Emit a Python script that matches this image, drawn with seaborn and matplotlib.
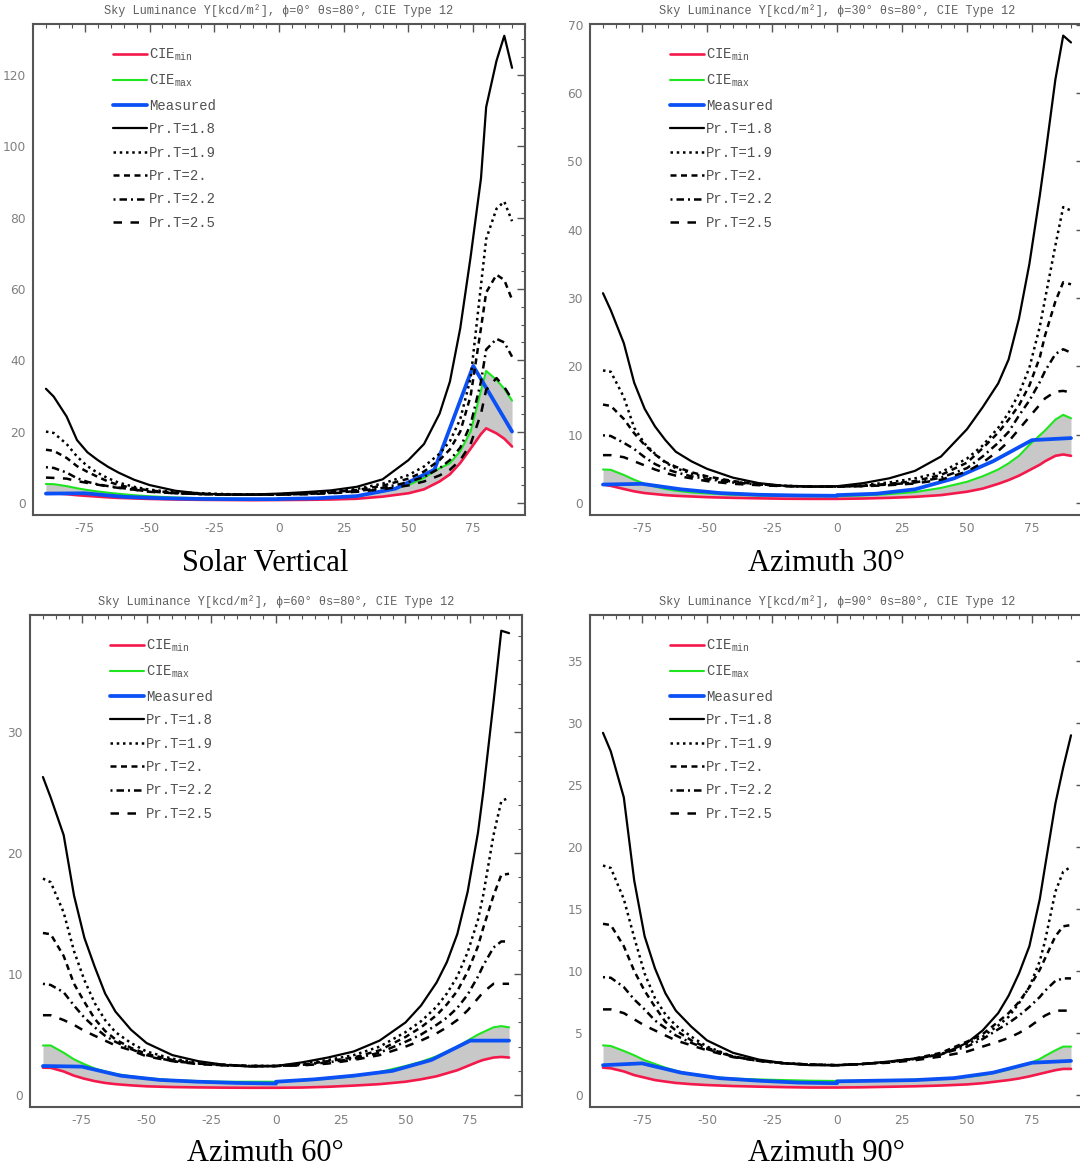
import numpy as np
import pandas as pd
import matplotlib
matplotlib.use("Agg")
import matplotlib.pyplot as plt
import seaborn as sns
from matplotlib.ticker import MultipleLocator

# ---------------------------------------------------------------- data
# viewing angle (deg) for model curves and for the measured scans
X = [-90, -87, -82, -78, -74, -70, -66, -62, -56, -50, -40, -30, -20, -10, 0,
     10, 20, 30, 40, 50, 56, 62, 66, 70, 74, 78, 80, 84, 87, 90]
XM = [-90, -75, -60, -45, -30, -15, 0, 0, 15, 30, 45, 60, 75, 90]

# Solar vertical (phi = 0)
SV_CIE_MIN = [2.7, 2.7, 2.45, 2.15, 1.95, 1.75, 1.55, 1.4, 1.25, 1.1, 0.95, 0.85, 0.8, 0.75, 0.8,
              0.85, 0.95, 1.15, 1.75, 2.7, 3.8, 6.0, 8.0, 11.2, 15.2, 19.3, 20.9, 19.5, 18, 15.8]
SV_CIE_MAX = [5.3, 5.25, 4.7, 4.1, 3.6, 3.2, 2.85, 2.55, 2.15, 1.85, 1.5, 1.3, 1.2, 1.1, 1.1,
              1.2, 1.4, 1.9, 3.2, 5.0, 7.0, 9.7, 11.1, 14.5, 20, 31.5, 37, 34.5, 32, 28.7]
SV_MEAS = [2.6, 2.7, 1.7, 1.3, 1.1, 1.05, 1.05, 1.1, 1.3, 1.9, 4.0, 9.3, 38.4, 20]
SV_T18 = [32, 29.8, 24.2, 17.6, 14.2, 12.0, 10.1, 8.5, 6.5, 5.0, 3.4, 2.6, 2.35, 2.35, 2.6,
          3.0, 3.5, 4.5, 6.6, 12, 16.5, 25, 34, 49, 69, 91, 111, 124, 131, 122]
SV_T19 = [20, 19.6, 16.5, 13, 10.3, 8.4, 6.9, 5.7, 4.5, 3.7, 3.0, 2.7, 2.45, 2.35, 2.45,
          2.7, 3.1, 3.9, 5.4, 7.8, 10.2, 13.8, 17.3, 23.5, 35, 61, 74, 82.5, 84.5, 79]
SV_T20 = [14.9, 14.6, 12.6, 10.3, 8.7, 7.3, 6.0, 5.0, 4.1, 3.5, 2.8, 2.5, 2.35, 2.3, 2.4,
          2.6, 3.0, 3.6, 4.8, 6.8, 8.8, 12.0, 15.0, 20, 30, 49, 59, 64, 62.5, 57]
SV_T22 = [10, 9.8, 8.5, 6.9, 5.9, 5.2, 4.7, 4.3, 3.7, 3.2, 2.7, 2.45, 2.3, 2.3, 2.3,
          2.5, 2.8, 3.3, 4.2, 5.8, 7.3, 9.7, 12, 15.5, 22, 34, 43, 46, 45, 41]
SV_T25 = [7.1, 7.0, 6.8, 6.1, 5.6, 5.1, 4.6, 4.2, 3.7, 3.1, 2.7, 2.45, 2.3, 2.3, 2.3,
          2.4, 2.7, 3.1, 3.8, 4.9, 6.0, 7.7, 9.3, 12, 16.5, 25, 31.7, 35, 32.5, 29]

# Azimuth 30
AZ30_CIE_MIN = [2.7, 2.5, 2.05, 1.7, 1.45, 1.3, 1.15, 1.05, 0.95, 0.85, 0.75, 0.68, 0.62, 0.6, 0.6,
                0.65, 0.75, 0.9, 1.15, 1.65, 2.1, 2.8, 3.35, 4.0, 4.8, 5.6, 6.1, 6.9, 7.1, 6.9]
AZ30_CIE_MAX = [4.9, 4.85, 4.1, 3.4, 2.8, 2.4, 2.05, 1.8, 1.55, 1.4, 1.2, 1.1, 1.05, 1.0, 1.0,
                1.1, 1.3, 1.6, 2.2, 3.1, 3.9, 4.9, 5.8, 6.9, 8.5, 9.9, 10.6, 12.2, 12.9, 12.4]
AZ30_MEAS = [2.7, 2.8, 2.0, 1.45, 1.2, 1.1, 1.05, 1.15, 1.35, 2.0, 3.6, 6.1, 9.2, 9.5]
AZ30_T18 = [30.7, 28.2, 23.4, 17.6, 13.8, 11.2, 9.2, 7.5, 6.1, 5.0, 3.7, 2.9, 2.5, 2.4, 2.45,
            2.9, 3.6, 4.7, 6.8, 10.8, 14, 17.5, 21, 27, 35, 45, 50.5, 62, 68.4, 67.4]
AZ30_T19 = [19.4, 19.2, 15.5, 11.0, 8.7, 7.2, 5.9, 5.1, 4.3, 3.7, 3.1, 2.75, 2.5, 2.4, 2.4,
            2.6, 3.0, 3.6, 4.5, 6.5, 8.4, 11, 13.2, 16, 19.8, 25.8, 29.8, 37.7, 43.3, 42.8]
AZ30_T20 = [14.4, 14.2, 12.3, 10.2, 8.5, 7.1, 6.0, 5.3, 4.5, 3.9, 3.2, 2.75, 2.5, 2.4, 2.4,
            2.5, 2.8, 3.2, 4.1, 5.9, 8.0, 10.3, 12.2, 14.3, 17.2, 21.3, 24.5, 29.5, 32.3, 32]
AZ30_T22 = [9.9, 9.8, 8.8, 7.9, 6.7, 5.7, 5.0, 4.5, 3.9, 3.5, 3.0, 2.7, 2.5, 2.4, 2.4,
            2.5, 2.7, 3.0, 3.7, 5.1, 6.8, 8.8, 10.4, 12.8, 15.0, 17.7, 19.3, 21.8, 22.5, 22]
AZ30_T25 = [7.0, 7.0, 6.7, 6.1, 5.5, 4.9, 4.4, 4.0, 3.6, 3.2, 2.8, 2.6, 2.45, 2.4, 2.4,
            2.45, 2.6, 2.85, 3.4, 4.6, 5.9, 7.6, 9.0, 10.8, 12.6, 14.4, 15.3, 16.3, 16.4, 16.2]

# Azimuth 60
AZ60_CIE_MIN = [2.26, 2.25, 1.95, 1.6, 1.35, 1.15, 1.0, 0.9, 0.8, 0.72, 0.66, 0.63, 0.61, 0.6, 0.6,
                0.62, 0.68, 0.78, 0.9, 1.1, 1.3, 1.55, 1.8, 2.05, 2.4, 2.75, 2.9, 3.1, 3.15, 3.1]
AZ60_CIE_MAX = [4.1, 4.1, 3.5, 2.95, 2.55, 2.2, 1.95, 1.75, 1.55, 1.4, 1.23, 1.15, 1.1, 1.1, 1.1,
                1.2, 1.35, 1.55, 1.9, 2.4, 2.75, 3.2, 3.6, 4.0, 4.5, 5.0, 5.2, 5.6, 5.7, 5.6]
AZ60_MEAS = [2.4, 2.35, 1.6, 1.25, 1.1, 1.0, 0.95, 1.1, 1.3, 1.6, 2.0, 2.9, 4.5, 4.5]
AZ60_T18 = [26.3, 24.6, 21.5, 16.5, 13.0, 10.6, 8.4, 6.9, 5.4, 4.3, 3.3, 2.8, 2.5, 2.35, 2.4,
            2.7, 3.1, 3.6, 4.5, 6.0, 7.4, 9.3, 11.0, 13.3, 16.8, 21.7, 25, 32.5, 38.4, 38.2]
AZ60_T19 = [17.9, 17.6, 15.1, 11.9, 9.5, 7.6, 6.2, 5.2, 4.3, 3.6, 3.0, 2.7, 2.5, 2.4, 2.4,
            2.6, 2.9, 3.3, 4.0, 5.2, 6.1, 7.3, 8.4, 9.8, 11.8, 14.5, 16.5, 21.5, 24.3, 24.6]
AZ60_T20 = [13.4, 13.3, 11.5, 9.2, 7.7, 6.3, 5.3, 4.6, 3.9, 3.4, 2.9, 2.6, 2.5, 2.4, 2.4,
            2.5, 2.8, 3.1, 3.7, 4.8, 5.6, 6.6, 7.5, 8.6, 10.2, 12.3, 13.8, 16.5, 18.2, 18.3]
AZ60_T22 = [9.2, 9.1, 8.5, 7.4, 6.4, 5.6, 4.9, 4.4, 3.8, 3.3, 2.8, 2.6, 2.45, 2.4, 2.4,
            2.5, 2.7, 3.0, 3.5, 4.4, 5.0, 5.8, 6.4, 7.2, 8.3, 9.8, 10.7, 12.2, 12.7, 12.7]
AZ60_T25 = [6.6, 6.6, 6.2, 5.8, 5.3, 4.9, 4.5, 4.1, 3.7, 3.2, 2.8, 2.55, 2.45, 2.4, 2.4,
            2.45, 2.6, 2.9, 3.3, 4.0, 4.5, 5.1, 5.6, 6.2, 7.0, 8.0, 8.5, 9.2, 9.2, 9.2]

# Azimuth 90
AZ90_CIE_MIN = [2.2, 2.15, 1.9, 1.6, 1.4, 1.2, 1.08, 0.97, 0.87, 0.8, 0.72, 0.67, 0.63, 0.6, 0.6,
                0.62, 0.66, 0.7, 0.76, 0.85, 0.95, 1.1, 1.2, 1.33, 1.5, 1.7, 1.8, 2.0, 2.1, 2.1]
AZ90_CIE_MAX = [4.0, 3.95, 3.55, 3.2, 2.8, 2.5, 2.2, 1.95, 1.65, 1.48, 1.32, 1.25, 1.2, 1.15, 1.13,
                1.15, 1.18, 1.23, 1.3, 1.45, 1.6, 1.85, 2.05, 2.3, 2.55, 2.9, 3.15, 3.6, 3.9, 3.9]
AZ90_MEAS = [2.4, 2.55, 1.8, 1.35, 1.15, 1.0, 0.95, 1.1, 1.15, 1.2, 1.36, 1.8, 2.6, 2.75]
AZ90_T18 = [29.2, 27.7, 24.0, 17.3, 12.8, 10.2, 8.2, 6.8, 5.5, 4.4, 3.4, 2.85, 2.55, 2.4, 2.4,
            2.5, 2.7, 2.95, 3.25, 4.2, 5.2, 6.6, 8.0, 9.8, 12.0, 15.8, 18.4, 23.5, 26.4, 29]
AZ90_T19 = [18.5, 18.3, 15.8, 12.7, 9.8, 7.8, 6.5, 5.6, 4.7, 3.9, 3.1, 2.75, 2.55, 2.45, 2.4,
            2.5, 2.65, 2.9, 3.3, 4.1, 4.7, 5.6, 6.3, 7.4, 8.7, 10.8, 12.4, 16.4, 18.0, 18.4]
AZ90_T20 = [13.8, 13.7, 12.0, 10.0, 8.4, 7.1, 5.9, 5.2, 4.4, 3.8, 3.1, 2.75, 2.55, 2.45, 2.4,
            2.5, 2.65, 2.95, 3.4, 4.3, 4.9, 5.9, 6.6, 7.5, 8.7, 10.1, 11.0, 12.8, 13.6, 13.7]
AZ90_T22 = [9.5, 9.45, 8.7, 7.7, 6.9, 6.0, 5.4, 4.8, 4.2, 3.7, 3.1, 2.75, 2.55, 2.45, 2.4,
            2.5, 2.65, 2.9, 3.3, 3.9, 4.5, 5.3, 5.8, 6.4, 7.1, 7.9, 8.4, 9.2, 9.4, 9.4]
AZ90_T25 = [6.9, 6.9, 6.6, 6.1, 5.6, 5.2, 4.8, 4.4, 4.0, 3.6, 3.05, 2.75, 2.55, 2.45, 2.4,
            2.5, 2.6, 2.8, 3.1, 3.5, 3.9, 4.3, 4.6, 5.0, 5.5, 6.1, 6.4, 6.8, 6.8, 6.8]

PHI = [0, 30, 60, 90]
CAPTIONS = ["Solar Vertical", "Azimuth 30°", "Azimuth 60°", "Azimuth 90°"]
LABELS = ["CIE$_{\\rm min}$", "CIE$_{\\rm max}$", "Measured",
          "Pr.T=1.8", "Pr.T=1.9", "Pr.T=2.", "Pr.T=2.2", "Pr.T=2.5"]

# ---------------------------------------------------------------- style
sns.set_theme(style="white")
plt.rcParams["font.family"] = ["Liberation Mono", "DejaVu Sans Mono"]
plt.rcParams["mathtext.fontset"] = "custom"
plt.rcParams["mathtext.rm"] = "Liberation Mono"
plt.rcParams["mathtext.it"] = "Liberation Mono"
plt.rcParams["axes.unicode_minus"] = False

RED, GREEN, BLUE, BLACK = "#f5194b", "#1ee61e", "#0a50f5", "#000000"
STYLES = [
    dict(color=RED, lw=1.9, ls="-"),
    dict(color=GREEN, lw=1.5, ls="-"),
    dict(color=BLUE, lw=2.7, ls="-"),
    dict(color=BLACK, lw=1.6, ls="-"),
    dict(color=BLACK, lw=1.8, ls=(0, (1.0, 1.5))),
    dict(color=BLACK, lw=1.8, ls=(0, (2.4, 1.8))),
    dict(color=BLACK, lw=1.8, ls=(0, (0.8, 1.6, 3.0, 1.6))),
    dict(color=BLACK, lw=1.8, ls=(0, (3.4, 3.4))),
]

W, H = 1080, 1166
fig = plt.figure(figsize=(W / 100, H / 100), dpi=100)
fig.patch.set_facecolor("white")

# panel frames in pixels: left, top, right, bottom
FRAMES = [(33, 24, 525, 515), (590, 24, 1084, 515),
          (30, 615, 522, 1107), (590, 615, 1084, 1107)]
YLIMS = [(-3.4, 134.3), (-1.76, 70.1), (-0.99, 39.7), (-0.97, 38.7)]
YSTEP = [(20, 5), (10, 2), (10, 2), (5, 1)]
CAP_POS = [(265, 571), (826, 571), (265, 1161), (826, 1161)]

panels = [
    (SV_CIE_MIN, SV_CIE_MAX, SV_MEAS, SV_T18, SV_T19, SV_T20, SV_T22, SV_T25),
    (AZ30_CIE_MIN, AZ30_CIE_MAX, AZ30_MEAS, AZ30_T18, AZ30_T19, AZ30_T20, AZ30_T22, AZ30_T25),
    (AZ60_CIE_MIN, AZ60_CIE_MAX, AZ60_MEAS, AZ60_T18, AZ60_T19, AZ60_T20, AZ60_T22, AZ60_T25),
    (AZ90_CIE_MIN, AZ90_CIE_MAX, AZ90_MEAS, AZ90_T18, AZ90_T19, AZ90_T20, AZ90_T22, AZ90_T25),
]

for i, series in enumerate(panels):
    l, t, r, b = FRAMES[i]
    ax = fig.add_axes([l / W, 1 - b / H, (r - l) / W, (b - t) / H])
    ax.set_facecolor("white")

    ax.fill_between(X, series[0], series[1], color="#c8c8c8", lw=0, zorder=1)
    for k, (vals, st) in enumerate(zip(series, STYLES)):
        xs = XM if k == 2 else X
        sns.lineplot(x=xs, y=vals, ax=ax, color=st["color"], linewidth=st["lw"],
                     linestyle=st["ls"], estimator=None, sort=False,
                     label=LABELS[k], zorder=2 + k)

    ax.set_xlim(-95, 95)
    ax.set_ylim(*YLIMS[i])
    ax.xaxis.set_major_locator(MultipleLocator(25))
    ax.xaxis.set_minor_locator(MultipleLocator(5))
    ax.yaxis.set_major_locator(MultipleLocator(YSTEP[i][0]))
    ax.yaxis.set_minor_locator(MultipleLocator(YSTEP[i][1]))
    ax.tick_params(which="both", direction="in", top=True, right=True,
                   color="#555555", labelcolor="#808080", labelsize=8.8)
    ax.tick_params(which="major", length=6, width=1.0, pad=5)
    ax.tick_params(which="minor", length=3, width=0.8)
    for lab in ax.get_xticklabels() + ax.get_yticklabels():
        lab.set_family("DejaVu Sans")
    for sp in ax.spines.values():
        sp.set_color("#555555")
        sp.set_linewidth(1.5)
    ax.set_xlabel("")
    ax.set_ylabel("")

    ax.set_title("Sky Luminance Y[kcd/m²], ϕ=%d° θs=80°, CIE Type 12" % PHI[i],
                 fontsize=8.6, color="#606060", pad=7,
                 family=["Liberation Mono", "DejaVu Sans Mono"])

    ax.legend(loc="upper left", bbox_to_anchor=(80 / (r - l), 1 - 23 / (b - t)),
              frameon=False, fontsize=10, handlelength=2.45, handletextpad=0.15,
              labelspacing=0.68, borderpad=0, borderaxespad=0,
              labelcolor="#505050")

    cx, cy = CAP_POS[i]
    fig.text(cx / W, 1 - cy / H, CAPTIONS[i], ha="center", va="baseline",
             fontsize=22, family="Liberation Serif", color="black")

fig.savefig("out.png", dpi=100, facecolor="white")
